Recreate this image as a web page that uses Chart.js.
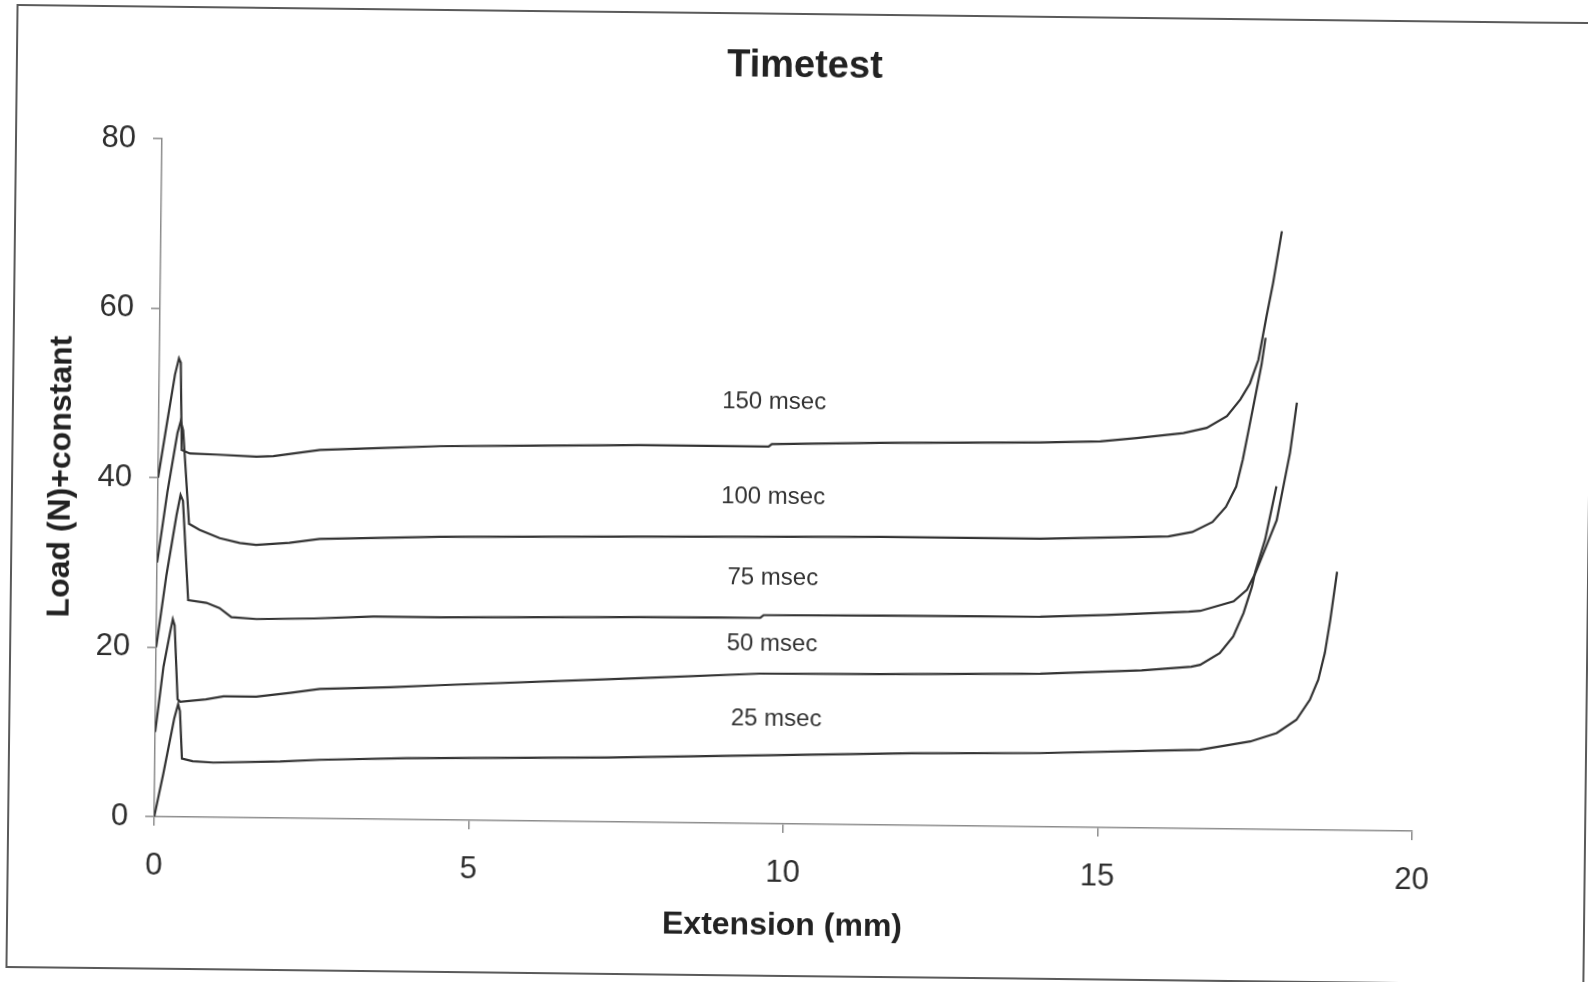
<!DOCTYPE html>
<html>
<head>
<meta charset="utf-8">
<title>Timetest</title>
<script src="https://cdn.jsdelivr.net/npm/chart.js@4.4.0/dist/chart.umd.min.js"></script>
<style>
  html, body { margin: 0; padding: 0; background: #fff; overflow: hidden; }
  /* the sheet sits slightly skewed, frame and plot together */
  #sheet { position: relative; width: 1588px; height: 982px; transform: rotate(0.66deg); transform-origin: 794px 491px; }
  #frame { position: absolute; left: 11px; top: 13px; width: 1575px; height: 960px; border: 2px solid #5a5a5a; }
  #chart { position: absolute; left: 0; top: 0; }
</style>
</head>
<body>
<div id="sheet">
  <div id="frame"></div>
  <canvas id="chart" width="1588" height="982"></canvas>
</div>
<script>
// Extension (mm) vs load (N) + constant, one run per pulse time
const runNames = ['25 msec', '50 msec', '75 msec', '100 msec', '150 msec'];

const run25 = [[0, 0], [0.14, 5.2], [0.3, 11.6], [0.36, 13.3], [0.39, 12.5], [0.43, 6.9], [0.6, 6.6], [0.93, 6.46],
  [1.99, 6.67], [2.62, 6.93], [4.0, 7.25], [7.2, 7.6], [12.03, 8.5], [14.07, 8.7], [16.08, 9.2], [16.61, 9.31],
  [17.41, 10.36], [17.83, 11.39], [18.14, 12.98], [18.35, 15.36], [18.48, 17.73], [18.58, 20.9], [18.66, 24.8], [18.76, 30.5]];

const run50 = [[0, 10], [0.12, 17.7], [0.22, 21.8], [0.26, 23.3], [0.29, 22.6], [0.35, 13.9], [0.39, 13.6], [0.8, 13.9],
  [1.08, 14.3], [1.6, 14.3], [2.14, 14.8], [2.61, 15.3], [3.73, 15.6], [4.52, 15.9], [7.7, 17.0], [9.6, 17.7],
  [11.5, 17.8], [14.06, 18.06], [15.67, 18.6], [16.46, 19.1], [16.6, 19.34], [16.91, 20.75], [17.12, 22.73],
  [17.28, 25.5], [17.41, 28.65], [17.46, 30.4], [17.61, 34.2], [17.78, 40.5]];

const run75 = [[0, 20], [0.15, 28.5], [0.3, 35.6], [0.36, 38.0], [0.4, 37.3], [0.5, 25.6], [0.79, 25.3], [1.0, 24.7],
  [1.19, 23.65], [1.59, 23.45], [2.5, 23.6], [3.45, 23.9], [4.51, 23.9], [7.69, 24.2], [9.6, 24.3], [9.65, 24.6],
  [11.5, 24.7], [14.05, 24.8], [15.1, 25.1], [16.41, 25.6], [16.59, 25.7], [17.12, 26.86], [17.33, 28.26],
  [17.46, 30.2], [17.79, 36.5], [17.99, 44.5], [18.09, 50.4]];

const run100 = [[0, 30], [0.15, 38.3], [0.3, 45.3], [0.35, 46.7], [0.39, 45.6], [0.5, 34.6], [0.67, 33.9], [0.99, 32.95],
  [1.31, 32.4], [1.57, 32.2], [2.1, 32.5], [2.58, 33.0], [4.49, 33.4], [7.67, 33.7], [11.5, 34.0], [14.03, 34.0],
  [16.07, 34.45], [16.45, 35.0], [16.77, 36.2], [16.98, 38.0], [17.14, 40.4], [17.24, 43.6], [17.34, 47.6],
  [17.44, 51.6], [17.52, 54.8], [17.58, 58.0]];

const run150 = [[0, 40], [0.13, 46.4], [0.25, 52.2], [0.31, 54.1], [0.34, 53.6], [0.37, 43.3], [0.5, 42.9], [0.93, 42.8],
  [1.56, 42.6], [1.83, 42.7], [2.57, 43.5], [3.5, 43.8], [4.48, 44.1], [6.0, 44.3], [7.65, 44.5], [9.7, 44.5],
  [9.75, 44.8], [11.47, 45.1], [14.01, 45.35], [14.97, 45.55], [15.55, 46.0], [16.29, 46.65], [16.66, 47.3],
  [16.98, 48.7], [17.19, 50.7], [17.34, 52.6], [17.47, 55.4], [17.59, 60.5], [17.69, 64.5], [17.82, 70.6]];

const runs = [run25, run50, run75, run100, run150];

// where each run name is written (extension, load)
const nameX = [9.87, 9.79, 9.79, 9.78, 9.78];
const nameY = [12.3, 21.2, 29.0, 38.5, 49.8];

const xTicks = [0, 5, 10, 15, 20];
const yTicks = [0, 20, 40, 60, 80];

const FONT = '"Liberation Sans", Arial, sans-serif';
Chart.defaults.font.family = FONT;
Chart.defaults.color = '#2e2e2e';

// title + run names written straight onto the canvas
const annotate = {
    id: 'annotate',
    afterDraw(chart) {
        const { ctx, scales: { x, y } } = chart;
        ctx.save();
        ctx.textAlign = 'center';
        ctx.textBaseline = 'middle';
        ctx.fillStyle = '#222';
        ctx.font = 'bold 38px ' + FONT;
        ctx.fillText('Timetest', 800, 67);

        ctx.fillStyle = '#333';
        ctx.font = '24px ' + FONT;
        runNames.forEach((name, i) => {
            ctx.fillText(name, x.getPixelForValue(nameX[i]), y.getPixelForValue(nameY[i]));
        });
        ctx.restore();
    }
};

const axisStyle = {
    grid: { display: true, drawOnChartArea: false, drawTicks: true, tickLength: 9, color: '#8c8c8c', lineWidth: 1.5 },
    border: { display: true, color: '#8c8c8c', width: 1.5 }
};

new Chart(document.getElementById('chart'), {
    type: 'scatter',
    data: {
        datasets: runs.map((pts, i) => ({
            label: runNames[i],
            data: pts.map(p => ({ x: p[0], y: p[1] })),
            showLine: true,
            borderColor: '#333',
            borderWidth: 2.2,
            pointRadius: 0,
            tension: 0,
            fill: false
        }))
    },
    options: {
        responsive: false,
        animation: false,
        events: [],
        layout: { padding: { top: 146, right: 172, bottom: 0, left: 0 } },
        plugins: {
            legend: { display: false },
            title: { display: false },
            tooltip: { enabled: false }
        },
        scales: {
            x: {
                type: 'linear',
                min: xTicks[0],
                max: xTicks[xTicks.length - 1],
                afterBuildTicks: s => { s.ticks = xTicks.map(v => ({ value: v })); },
                afterFit: s => { s.height = 158; },
                ticks: { font: { size: 31 }, color: '#2e2e2e', padding: 22, maxRotation: 0 },
                title: {
                    display: true,
                    text: 'Extension (mm)',
                    color: '#222',
                    font: { size: 32, weight: 'bold' },
                    padding: { top: 0, bottom: 37 }
                },
                ...axisStyle
            },
            y: {
                type: 'linear',
                min: yTicks[0],
                max: yTicks[yTicks.length - 1],
                afterBuildTicks: s => { s.ticks = yTicks.map(v => ({ value: v })); },
                afterFit: s => { s.width = 158; },
                ticks: { font: { size: 31 }, color: '#2e2e2e', padding: 17 },
                title: {
                    display: true,
                    text: 'Load (N)+constant',
                    color: '#222',
                    font: { size: 32, weight: 'bold' },
                    padding: { top: 42, bottom: 0 }
                },
                ...axisStyle
            }
        }
    },
    plugins: [annotate]
});
</script>
</body>
</html>
